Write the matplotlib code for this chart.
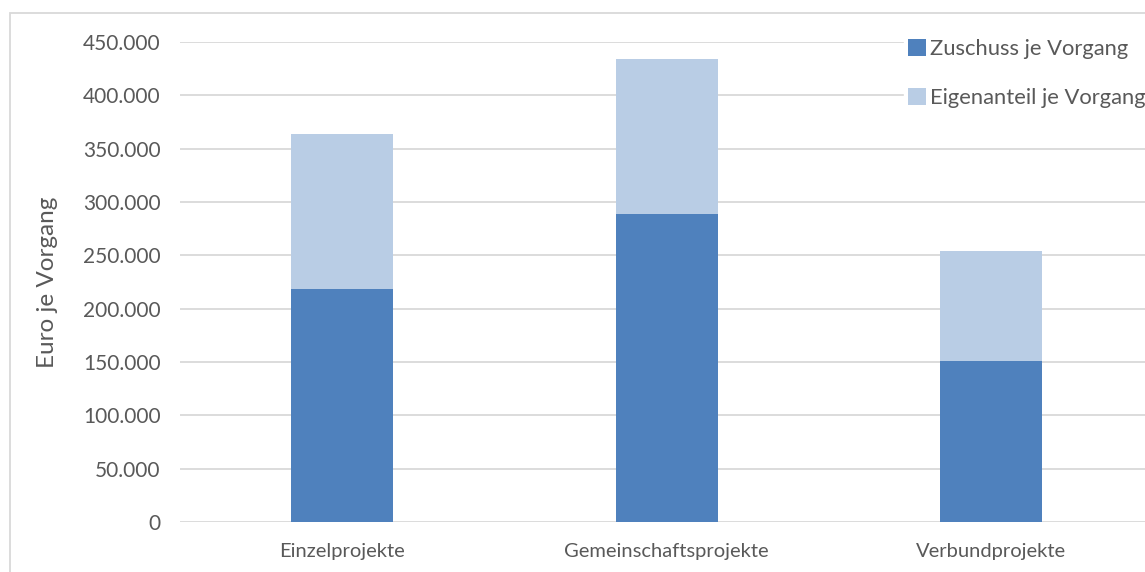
import numpy as np
import matplotlib.pyplot as plt
from matplotlib.ticker import FuncFormatter
from matplotlib.patches import Rectangle

plt.rcParams['font.family'] = ['Lato', 'DejaVu Sans']

kategorien = ['Einzelprojekte', 'Gemeinschaftsprojekte', 'Verbundprojekte']
zuschuss = [218000, 289000, 151000]
eigenanteil = [146000, 145000, 103000]

dunkel = '#4F81BD'
hell = '#B9CDE5'
text_farbe = '#595959'

x = np.arange(len(kategorien))
width = 0.314

fig = plt.figure(figsize=(11.45, 5.72), dpi=100)
ax = fig.add_axes([180/1145, 50/572, 973.5/1145, 480/572])

ax.bar(x, zuschuss, width, color=dunkel, label='Zuschuss je Vorgang', zorder=3)
ax.bar(x, eigenanteil, width, bottom=zuschuss, color=hell,
       label='Eigenanteil je Vorgang', zorder=3)

ax.set_xlim(-0.5, 2.5)
ax.set_ylim(0, 450000)
ax.set_yticks(np.arange(0, 450001, 50000))
ax.yaxis.set_major_formatter(FuncFormatter(lambda v, p: f'{int(v):,}'.replace(',', '.')))
ax.set_xticks(x)
ax.set_xticklabels(kategorien)
ax.grid(axis='y', color='#D9D9D9', linewidth=1.3, zorder=0)
for s in ax.spines.values():
    s.set_visible(False)
ax.tick_params(length=0, colors=text_farbe)
ax.tick_params(axis='y', labelsize=15, pad=14)
ax.tick_params(axis='x', labelsize=14.5, pad=15)
ax.set_ylabel('Euro je Vorgang', fontsize=17.5, color=text_farbe, labelpad=18)

leg = fig.legend(loc='upper left', bbox_to_anchor=(904/1145, 1 - 35/572),
                 fontsize=15.8, frameon=True, framealpha=1, edgecolor='white',
                 facecolor='white', fancybox=False, handlelength=0.8,
                 handleheight=0.8, handletextpad=0.2, labelspacing=1.3,
                 borderpad=0.2, borderaxespad=0)
for t in leg.get_texts():
    t.set_color(text_farbe)
leg.set_zorder(5)

# chart border
fig.add_artist(Rectangle((10/1145, -0.1), 1.2, 1 - 13/572 + 0.1,
                         transform=fig.transFigure, fill=False,
                         edgecolor='#D9D9D9', linewidth=1.3))

fig.savefig('out.png', dpi=100)
